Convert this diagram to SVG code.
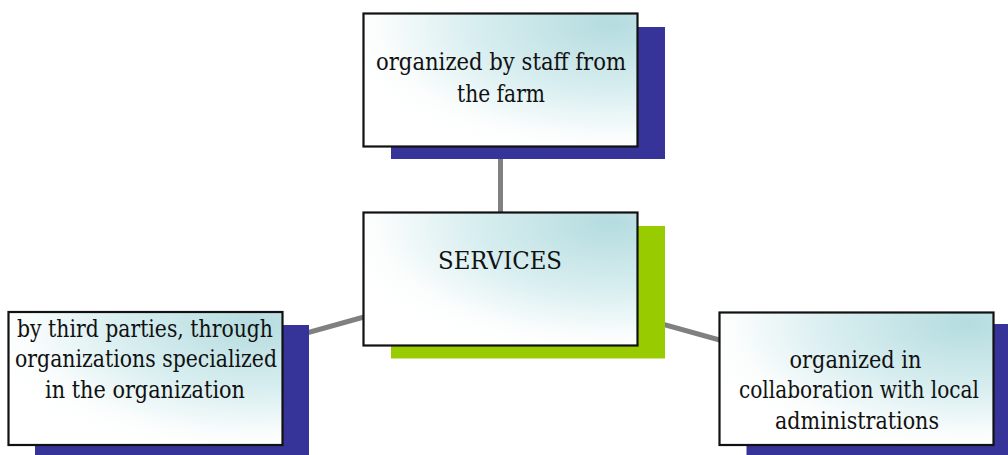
<svg xmlns="http://www.w3.org/2000/svg" width="1008" height="455" viewBox="0 0 1008 455">
<defs>
<radialGradient id="g" cx="0.9" cy="0.08" r="1.0" fx="0.9" fy="0.08">
<stop offset="0" stop-color="#b5dcdf"/>
<stop offset="0.5" stop-color="#d8eef0"/>
<stop offset="0.85" stop-color="#fbfdfd"/>
<stop offset="1" stop-color="#ffffff"/>
</radialGradient>
</defs>
<style>
.box{fill:url(#g);stroke:#111;stroke-width:2.2}
.sb{fill:#363399}
.sg{fill:#99cc00}
text{font-family:'DejaVu Serif',serif;font-size:23.5px;fill:#111;text-anchor:middle}
.c{stroke:#808080;stroke-width:5;fill:none}
</style>
<g id="connectors">
<line class="c" x1="500.5" y1="279" x2="500.5" y2="80"/>
<line class="c" x1="500.5" y1="279" x2="145" y2="378"/>
<line class="c" x1="500.5" y1="279" x2="856" y2="378"/>
</g>
<g id="top">
<rect class="sb" x="391" y="27" width="274" height="132"/>
<rect class="box" x="363.5" y="13.5" width="274" height="133"/>
<text x="501" y="70" textLength="250" lengthAdjust="spacingAndGlyphs">organized by staff from</text>
<text x="501" y="101.5" textLength="88" lengthAdjust="spacingAndGlyphs">the farm</text>
</g>
<g id="center">
<rect class="sg" x="391" y="226" width="274" height="132.5"/>
<rect class="box" x="363.5" y="212.5" width="274" height="133"/>
<text x="500" y="269" textLength="124" lengthAdjust="spacingAndGlyphs">SERVICES</text>
</g>
<g id="left">
<rect class="sb" x="35" y="325" width="274" height="131"/>
<rect class="box" x="8.5" y="312" width="274" height="133"/>
<text x="145" y="336.5" textLength="256" lengthAdjust="spacingAndGlyphs">by third parties, through</text>
<text x="146" y="367" textLength="262" lengthAdjust="spacingAndGlyphs">organizations specialized</text>
<text x="145" y="398" textLength="200" lengthAdjust="spacingAndGlyphs">in the organization</text>
</g>
<g id="right">
<rect class="sb" x="746.5" y="324" width="262" height="132"/>
<rect class="box" x="719.5" y="312.5" width="274" height="132.5"/>
<text x="855.5" y="367.5" textLength="132" lengthAdjust="spacingAndGlyphs">organized in</text>
<text x="859" y="398" textLength="240" lengthAdjust="spacingAndGlyphs">collaboration with local</text>
<text x="857" y="428.5" textLength="164" lengthAdjust="spacingAndGlyphs">administrations</text>
</g>
</svg>
